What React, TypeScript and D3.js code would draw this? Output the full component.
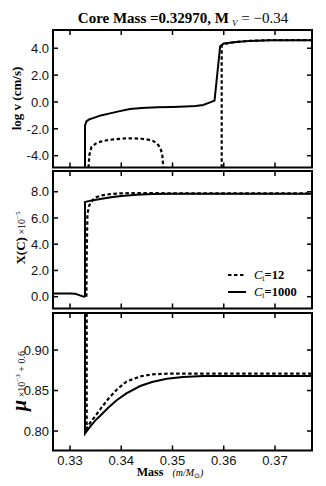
import React, { useEffect, useRef } from "react";
import * as d3 from "d3";

// --- velocity panel: log v (cm/s) vs mass
const velMassCt1000 = [0.33293, 0.33293, 0.3332, 0.3337, 0.3345, 0.336, 0.3378, 0.3395, 0.3417, 0.344, 0.347, 0.35, 0.3525, 0.3545, 0.356, 0.3572, 0.3582, 0.3593, 0.36, 0.362, 0.365, 0.369, 0.3772];
const velLogCt1000 = [-4.9, -1.75, -1.45, -1.3, -1.2, -1.0, -0.85, -0.7, -0.52, -0.45, -0.4, -0.37, -0.33, -0.3, -0.22, -0.05, 0.1, 4.15, 4.35, 4.45, 4.55, 4.6, 4.6];
const velMassCt12a = [0.3336, 0.3338, 0.3342, 0.335, 0.336, 0.3372, 0.3385, 0.3405, 0.3425, 0.344, 0.3452, 0.3462, 0.347, 0.3476, 0.348, 0.3482];
const velLogCt12a = [-4.9, -3.9, -3.35, -3.1, -2.95, -2.85, -2.78, -2.72, -2.71, -2.74, -2.8, -2.9, -3.1, -3.4, -3.9, -4.9];
const velMassCt12b = [0.3596, 0.3596, 0.3605, 0.362, 0.365, 0.369, 0.3772];
const velLogCt12b = [-4.9, 4.2, 4.35, 4.45, 4.55, 4.6, 4.6];

// --- carbon panel: X(C) x 1e-5
const cMassCt1000 = [0.3267, 0.33, 0.331, 0.3318, 0.3324, 0.3328, 0.33293, 0.33293, 0.334, 0.3359, 0.338, 0.34, 0.343, 0.346, 0.35, 0.356, 0.3772];
const cValCt1000 = [0.25, 0.25, 0.22, 0.12, 0.03, 0.0, 0.05, 7.22, 7.32, 7.45, 7.58, 7.68, 7.77, 7.82, 7.84, 7.85, 7.85];
const cMassCt12 = [0.3332, 0.33325, 0.3334, 0.3337, 0.334, 0.3345, 0.3352, 0.3362, 0.3378, 0.34, 0.343, 0.35, 0.3772];
const cValCt12 = [0.0, 3.0, 6.3, 6.9, 7.15, 7.4, 7.6, 7.72, 7.82, 7.88, 7.9, 7.88, 7.87];

// --- mean molecular weight panel
const muMassCt1000 = [0.33293, 0.33293, 0.334, 0.335, 0.33585, 0.3375, 0.3391, 0.341, 0.3437, 0.346, 0.3489, 0.352, 0.356, 0.3772];
const muValCt1000 = [0.96, 0.797, 0.806, 0.8135, 0.8185, 0.829, 0.838, 0.8465, 0.8556, 0.8605, 0.8645, 0.8668, 0.8678, 0.868];
const muMassCt12 = [0.33325, 0.33325, 0.334, 0.335, 0.33585, 0.3375, 0.3391, 0.341, 0.3437, 0.346, 0.35, 0.3772];
const muValCt12 = [0.96, 0.803, 0.811, 0.819, 0.8265, 0.84, 0.851, 0.861, 0.8675, 0.87, 0.871, 0.871];

const massTicks = [0.33, 0.34, 0.35, 0.36, 0.37];
const velTicks = [-4, -2, 0, 2, 4];
const carbonTicks = [0, 2, 4, 6, 8];
const muTicks = [0.8, 0.85, 0.9];
const legendLabels = ["12", "1000"];

const zip = (xs: number[], ys: number[]) => xs.map((m, i) => [m, ys[i]] as [number, number]);

export default function App() {
  const ref = useRef<SVGSVGElement>(null);

  useEffect(() => {
    const svg = d3.select(ref.current);
    svg.selectAll("*").remove();

    const x0 = 53, x1 = 312;
    const x = d3.scaleLinear().domain([0.32668, 0.37722]).range([x0, x1]);
    const serif = "'Liberation Serif', 'DejaVu Serif', serif";
    const sans = "'Liberation Sans', Arial, sans-serif";

    const panels = [
      { top: 30, dom: [-4.88, 5.36], ticks: velTicks, fmt: (v: number) => v.toFixed(1),
        solid: [zip(velMassCt1000, velLogCt1000)], dashed: [zip(velMassCt12a, velLogCt12a), zip(velMassCt12b, velLogCt12b)] },
      { top: 171, dom: [-0.9, 9.58], ticks: carbonTicks, fmt: (v: number) => v.toFixed(1),
        solid: [zip(cMassCt1000, cValCt1000)], dashed: [zip(cMassCt12, cValCt12)] },
      { top: 313, dom: [0.776, 0.9457], ticks: muTicks, fmt: (v: number) => v.toFixed(2),
        solid: [zip(muMassCt1000, muValCt1000)], dashed: [zip(muMassCt12, muValCt12)] },
    ];
    const ph = 137.5;

    panels.forEach((p, pi) => {
      const y = d3.scaleLinear().domain(p.dom).range([p.top + ph, p.top]);
      const g = svg.append("g");
      const clipId = `clip${pi}`;
      g.append("clipPath").attr("id", clipId)
        .append("rect").attr("x", x0).attr("y", p.top).attr("width", x1 - x0).attr("height", ph);

      const line = d3.line<[number, number]>().x(d => x(d[0])).y(d => y(d[1]));
      const lines = g.append("g").attr("clip-path", `url(#${clipId})`);
      p.dashed.forEach(seg => lines.append("path").attr("d", line(seg))
        .attr("fill", "none").attr("stroke", "#000").attr("stroke-width", 2.2)
        .attr("stroke-dasharray", "3.5,2.5"));
      p.solid.forEach(seg => lines.append("path").attr("d", line(seg))
        .attr("fill", "none").attr("stroke", "#000").attr("stroke-width", 2));

      // ticks, inward on all four sides
      massTicks.forEach(t => {
        g.append("line").attr("x1", x(t)).attr("x2", x(t)).attr("y1", p.top).attr("y2", p.top + 5)
          .attr("stroke", "#000").attr("stroke-width", 1.5);
        g.append("line").attr("x1", x(t)).attr("x2", x(t)).attr("y1", p.top + ph - 5).attr("y2", p.top + ph)
          .attr("stroke", "#000").attr("stroke-width", 1.5);
      });
      p.ticks.forEach(t => {
        g.append("line").attr("x1", x0).attr("x2", x0 + 5).attr("y1", y(t)).attr("y2", y(t))
          .attr("stroke", "#000").attr("stroke-width", 1.5);
        g.append("line").attr("x1", x1 - 5).attr("x2", x1).attr("y1", y(t)).attr("y2", y(t))
          .attr("stroke", "#000").attr("stroke-width", 1.5);
        g.append("text").attr("x", x0 - 4).attr("y", y(t)).attr("dy", "0.36em")
          .attr("text-anchor", "end").attr("font-family", sans).attr("font-size", 13)
          .attr("fill", "#111").text(p.fmt(t));
      });

      g.append("rect").attr("x", x0).attr("y", p.top).attr("width", x1 - x0).attr("height", ph)
        .attr("fill", "none").attr("stroke", "#000").attr("stroke-width", 2);

      if (pi === 2) {
        massTicks.forEach(t => {
          g.append("text").attr("x", x(t)).attr("y", p.top + ph + 14).attr("text-anchor", "middle")
            .attr("font-family", sans).attr("font-size", 13).attr("fill", "#111").text(t.toFixed(2));
        });
      }
    });

    // title
    const title = svg.append("text").attr("x", 183).attr("y", 23).attr("text-anchor", "middle")
      .attr("font-family", serif).attr("font-size", 15).attr("font-weight", "bold");
    title.append("tspan").text("Core Mass =0.32970, M");
    title.append("tspan").attr("font-size", 9).attr("font-style", "italic").attr("font-weight", "normal")
      .attr("dy", 3).attr("dx", 3).text("V");
    title.append("tspan").attr("dy", -3).attr("font-weight", "normal").text(" = \u22120.34");

    // y labels
    const lab1 = svg.append("text").attr("transform", "translate(21,98.5) rotate(-90)")
      .attr("text-anchor", "middle").attr("font-family", serif).attr("font-size", 13).attr("font-weight", "bold");
    lab1.text("log v (cm/s)");

    const lab2 = svg.append("text").attr("transform", "translate(25,238) rotate(-90)")
      .attr("text-anchor", "middle").attr("font-family", serif);
    lab2.append("tspan").attr("font-size", 13).attr("font-weight", "bold").text("X(C)");
    lab2.append("tspan").attr("font-size", 10).text(" \u00d710");
    lab2.append("tspan").attr("font-size", 7).attr("dy", -5).text("\u22125");

    const lab3 = svg.append("text").attr("transform", "translate(26,381) rotate(-90)")
      .attr("text-anchor", "middle").attr("font-family", serif);
    lab3.append("tspan").attr("font-size", 20).attr("font-weight", "bold").attr("font-style", "italic").text("\u03bc");
    lab3.append("tspan").attr("font-size", 10).attr("dy", -1).text(" \u00d710");
    lab3.append("tspan").attr("font-size", 7).attr("dy", -5).text("\u22123");
    lab3.append("tspan").attr("font-size", 10).attr("dy", 5).text(" + 0.6");

    // x label
    const xl = svg.append("text").attr("x", 170).attr("y", 476).attr("text-anchor", "middle").attr("font-family", serif);
    xl.append("tspan").attr("font-size", 12).attr("font-weight", "bold").text("Mass");
    xl.append("tspan").attr("font-size", 10).attr("font-style", "italic").attr("dx", 9).text("(m/M");
    xl.append("tspan").attr("font-size", 7).attr("dy", 2).attr("font-family", "'DejaVu Sans', sans-serif").text("\u2299");
    xl.append("tspan").attr("font-size", 10).attr("font-style", "italic").attr("dy", -2).text(")");

    // legend
    const legY = [275, 292];
    legendLabels.forEach((lab, i) => {
      svg.append("line").attr("x1", 228).attr("x2", 246).attr("y1", legY[i]).attr("y2", legY[i])
        .attr("stroke", "#000").attr("stroke-width", 2)
        .attr("stroke-dasharray", i === 0 ? "3.5,2.5" : null);
      const t = svg.append("text").attr("x", 254).attr("y", legY[i] + 4).attr("font-family", serif).attr("font-size", 12.5);
      t.append("tspan").attr("font-style", "italic").text("C");
      t.append("tspan").attr("font-size", 8).attr("dy", 2).text("t");
      t.append("tspan").attr("dy", -2).attr("font-weight", "bold").text("=" + lab);
    });
  }, []);

  return (
    <svg ref={ref} width={326} height={486}
      style={{ position: "absolute", left: 0, top: 0, background: "#fff" }} />
  );
}
